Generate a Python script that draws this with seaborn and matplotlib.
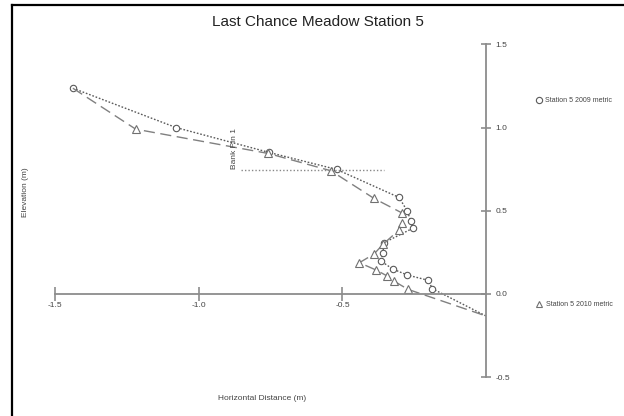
import matplotlib
matplotlib.use("Agg")
import matplotlib.pyplot as plt
from matplotlib.lines import Line2D
import seaborn as sns
import pandas as pd

# ---- data ----
x_2009 = [-1.439, -1.080, -0.755, -0.520, -0.303, -0.274, -0.262, -0.256, -0.355,
          -0.359, -0.366, -0.325, -0.274, -0.201, -0.187, 0.0]
y_2009 = [1.236, 1.000, 0.850, 0.748, 0.580, 0.498, 0.438, 0.394, 0.308,
          0.248, 0.198, 0.150, 0.114, 0.082, 0.032, -0.132]
x_2010 = [-1.439, -1.220, -0.758, -0.540, -0.390, -0.294, -0.292, -0.303, -0.358,
          -0.390, -0.441, -0.383, -0.346, -0.321, -0.272, 0.0]
y_2010 = [1.236, 0.990, 0.844, 0.740, 0.574, 0.488, 0.424, 0.384, 0.300,
          0.240, 0.188, 0.144, 0.110, 0.078, 0.028, -0.132]
label_2009 = "Station 5 2009 metric"
label_2010 = "Station 5 2010 metric"
x_ticks = [-1.5, -1.0, -0.5]
x_tick_labels = ["-1.5", "-1.0", "-0.5"]
y_ticks = [-0.5, 0.0, 0.5, 1.0, 1.5]
y_tick_labels = ["-0.5", "0.0", "0.5", "1.0", "1.5"]
bank_pin_y = 0.744
bank_pin_x = (-0.853, -0.355)
bank_pin_label = "Bank Pin 1"
title = "Last Chance Meadow Station 5"
xlabel = "Horizontal Distance (m)"
ylabel = "Elevation (m)"

df09 = pd.DataFrame({"x": x_2009, "y": y_2009})
df10 = pd.DataFrame({"x": x_2010, "y": y_2010})

sns.set_style("white")
plt.rcParams["font.family"] = ["Liberation Sans", "DejaVu Sans"]

W, H = 624, 416
fig = plt.figure(figsize=(W / 100, H / 100), dpi=100)
ax = fig.add_axes([0, 0, 1, 1])
ax.set_facecolor("none")

# pixel mapping: x=0 at px 486, 287 px/unit; y=0 at py 294, 166.5 px/unit
x0, sx = 486.0, 287.1
y0, sy = 294.0, 166.5
ax.set_xlim(-x0 / sx, (W - x0) / sx)
ax.set_ylim((y0 - H) / sy, y0 / sy)

line_col = "#5a5a5a"
axis_col = "#8c8c8c"

sns.lineplot(data=df09, x="x", y="y", sort=False, estimator=None, ax=ax,
             color=line_col, linestyle=(0, (1.2, 1.3)), linewidth=1.0,
             marker="o", markersize=4.6, markerfacecolor="white",
             markeredgecolor=line_col, markeredgewidth=0.8, legend=False,
             markevery=list(range(0, len(x_2009) - 1)))
sns.lineplot(data=df10, x="x", y="y", sort=False, estimator=None, ax=ax,
             color="#808080", linestyle=(0, (8, 4)), linewidth=1.0,
             marker="^", markersize=5.2, markerfacecolor="white",
             markeredgecolor="#707070", markeredgewidth=0.8, legend=False,
             markevery=list(range(1, len(x_2010) - 1)))

# bank pin
ax.hlines(bank_pin_y, bank_pin_x[0], bank_pin_x[1], colors="#888888",
          linestyles=(0, (1.0, 1.5)), linewidth=1.0)
ax.text(bank_pin_x[0] - 0.01, bank_pin_y + 0.005, bank_pin_label, rotation=90,
        ha="right", va="bottom", fontsize=6, color="#444444")

# axes through origin
for s in ["top", "left"]:
    ax.spines[s].set_visible(False)
ax.spines["bottom"].set_position(("data", 0))
ax.spines["bottom"].set_bounds(-1.5, 0)
ax.spines["right"].set_position(("data", 0))
ax.spines["right"].set_bounds(-0.5, 1.5)
for s in ["bottom", "right"]:
    ax.spines[s].set_color(axis_col)
    ax.spines[s].set_linewidth(1.3)
ax.yaxis.tick_right()
ax.set_xticks(x_ticks)
ax.set_xticklabels(x_tick_labels)
ax.set_yticks(y_ticks)
ax.set_yticklabels(y_tick_labels)
ax.tick_params(axis="x", direction="inout", length=10, width=1.2, color=axis_col,
               labelsize=6, labelcolor="#444444", pad=1)
ax.tick_params(axis="y", direction="inout", length=7.5, width=1.2, color=axis_col,
               labelsize=6, labelcolor="#444444", pad=3)
ax.xaxis.set_ticks_position("bottom")
ax.set_xlabel("")
ax.set_ylabel("")

# labels and title
fig.text(318 / W, 1 - 22 / H, title, ha="center", va="center", fontsize=11, color="#222222")
fig.text(262 / W, 1 - 399 / H, xlabel, ha="center", va="center", fontsize=6, color="#444444")
fig.text(25 / W, 1 - 192 / H, ylabel, ha="center", va="center", rotation=90,
         fontsize=6, color="#444444")

# two separate legend entries
h09 = Line2D([], [], linestyle="none", marker="o", markersize=4.5,
             markerfacecolor="white", markeredgecolor=line_col, markeredgewidth=0.8)
h10 = Line2D([], [], linestyle="none", marker="^", markersize=5,
             markerfacecolor="white", markeredgecolor="#707070", markeredgewidth=0.8)
leg1 = fig.legend([h09], [label_2009], loc="center left",
                  bbox_to_anchor=(533 / W, 1 - 101 / H), frameon=False, fontsize=5,
                  handlelength=0.8, handletextpad=0.4, borderpad=0, labelcolor="#444444")
leg2 = fig.legend([h10], [label_2010], loc="center left",
                  bbox_to_anchor=(533 / W, 1 - 305 / H), frameon=False, fontsize=5,
                  handlelength=0.8, handletextpad=0.6, borderpad=0, labelcolor="#444444")

# screenshot frame (black border top and left)
fig.add_artist(Line2D([11.5 / W, 11.5 / W], [0, 1 - 5 / H], transform=fig.transFigure,
                      color="black", linewidth=1.6, solid_capstyle="projecting"))
fig.add_artist(Line2D([11.5 / W, 1], [1 - 5 / H, 1 - 5 / H], transform=fig.transFigure,
                      color="black", linewidth=1.6, solid_capstyle="projecting"))

fig.savefig("out.png", dpi=100)
